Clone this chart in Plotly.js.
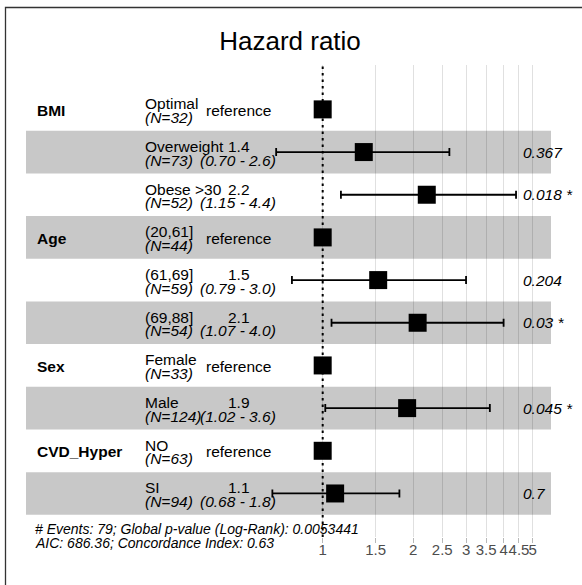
<!DOCTYPE html>
<html>
<head>
<meta charset="utf-8">
<script src="https://cdn.plot.ly/plotly-3.0.1.min.js"></script>
<style>html,body{margin:0;padding:0;background:#fff;}#chart{width:582px;height:585px;}</style>
</head>
<body>
<div id="chart"></div>
<script>
// ---- data ----
const variables = ['BMI', '', '', 'Age', '', '', 'Sex', '', 'CVD_Hyper', ''];
const levels = ['Optimal', 'Overweight', 'Obese >30', '(20,61]', '(61,69]', '(69,88]', 'Female', 'Male', 'NO', 'SI'];
const nCounts = [32, 73, 52, 44, 59, 54, 33, 124, 63, 94];
const hazardRatio = [1, 1.37, 2.22, 1, 1.53, 2.07, 1, 1.91, 1, 1.10];
const ciLower = [null, 0.70, 1.15, null, 0.79, 1.07, null, 1.02, null, 0.68];
const ciUpper = [null, 2.64, 4.4, null, 3.0, 4.0, null, 3.6, null, 1.8];
const hrLabels = ['reference', '1.4', '2.2', 'reference', '1.5', '2.1', 'reference', '1.9', 'reference', '1.1'];
const ciLabels = ['', '(0.70 - 2.6)', '(1.15 - 4.4)', '', '(0.79 - 3.0)', '(1.07 - 4.0)', '', '(1.02 - 3.6)', '', '(0.68 - 1.8)'];
const pLabels = ['', '0.367', '0.018 *', '', '0.204', '0.03 *', '', '0.045 *', '', '0.7'];
const tickValues = [1, 1.5, 2, 2.5, 3, 3.5, 4, 4.5, 5];
const tickLabels = ['1', '1.5', '2', '2.5', '3', '3.5', '4', '4.5', '5'];
const footerLines = ['# Events: 79; Global p-value (Log-Rank): 0.0053441', 'AIC: 686.36; Concordance Index: 0.63'];

// ---- layout helpers ----
const W = 582, H = 585;
const mL = 26, mR = 31, mT = 65, mB = 48;
const plotW = W - mL - mR, plotH = H - mT - mB;
const px2paperX = px => (px - mL) / plotW;
const py2paperY = py => (H - mB - py) / plotH;
const FONT = 'Liberation Sans, Arial, Helvetica, sans-serif';
const rows = levels.map((_, i) => i + 1);
const yRange = [11.02, -0.04];

const refIdx = [], estIdx = [];
hazardRatio.forEach((v, i) => (ciLower[i] === null ? refIdx : estIdx).push(i));

const traces = [
  { // reference line at HR = 1
    x: [1, 1], y: yRange, mode: 'lines', hoverinfo: 'skip', showlegend: false,
    line: { color: '#000', width: 2, dash: '2.5px,4px' }
  },
  { // estimates with confidence intervals
    x: estIdx.map(i => hazardRatio[i]), y: estIdx.map(i => rows[i]),
    mode: 'markers', type: 'scatter', showlegend: false,
    marker: { symbol: 'square', size: 18, color: '#000' },
    error_x: {
      type: 'data', symmetric: false,
      array: estIdx.map(i => ciUpper[i] - hazardRatio[i]),
      arrayminus: estIdx.map(i => hazardRatio[i] - ciLower[i]),
      color: '#000', thickness: 1.8, width: 4
    }
  },
  { // reference levels
    x: refIdx.map(i => hazardRatio[i]), y: refIdx.map(i => rows[i]),
    mode: 'markers', type: 'scatter', showlegend: false,
    marker: { symbol: 'square', size: 18, color: '#000' }
  }
];

const shapes = [];
rows.forEach((r, i) => {
  if (i % 2 === 1) {
    shapes.push({ type: 'rect', xref: 'paper', yref: 'y', x0: 0, x1: 1, y0: r - 0.5, y1: r + 0.5,
      fillcolor: '#c8c8c8', line: { width: 0 }, layer: 'below' });
  }
});
shapes.push({ type: 'rect', xref: 'paper', yref: 'paper',
  x0: px2paperX(5.5), x1: 1.2, y0: -0.3, y1: py2paperY(7.5),
  line: { color: '#333', width: 1.3 }, fillcolor: 'rgba(0,0,0,0)', layer: 'above' });

const annotations = [];
const base = { xref: 'paper', yref: 'y', showarrow: false, font: { family: FONT, size: 15.5, color: '#000' } };
rows.forEach((r, i) => {
  if (variables[i]) {
    annotations.push(Object.assign({}, base, { x: px2paperX(35), y: r, yshift: -1, xanchor: 'left',
      text: '<b>' + variables[i] + '</b>' }));
  }
  annotations.push(Object.assign({}, base, { x: px2paperX(143), y: r, yshift: 5.5, xanchor: 'left', text: levels[i] }));
  annotations.push(Object.assign({}, base, { x: px2paperX(143), y: r, yshift: -8, xanchor: 'left',
    text: '<i>(N=' + nCounts[i] + ')</i>' }));
  if (ciLabels[i]) {
    annotations.push(Object.assign({}, base, { x: px2paperX(239), y: r, yshift: 5.5, xanchor: 'center', text: hrLabels[i] }));
    annotations.push(Object.assign({}, base, { x: px2paperX(238), y: r, yshift: -8, xanchor: 'center',
      text: '<i>' + ciLabels[i] + '</i>' }));
  } else {
    annotations.push(Object.assign({}, base, { x: px2paperX(238), y: r, yshift: -1, xanchor: 'center', text: hrLabels[i] }));
  }
  if (pLabels[i]) {
    annotations.push(Object.assign({}, base, { x: px2paperX(521), y: r, xanchor: 'left',
      text: '<i>' + pLabels[i] + '</i>' }));
  }
});
footerLines.forEach((t, k) => {
  annotations.push({ xref: 'paper', yref: 'paper', x: px2paperX(33), y: py2paperY(k === 0 ? 529 : 543),
    xanchor: 'left', yanchor: 'middle', showarrow: false, text: '<i>' + t + '</i>',
    font: { family: FONT, size: 14, color: '#000' } });
});

const layout = {
  width: W, height: H,
  margin: { l: mL, r: mR, t: mT, b: mB, pad: 0 },
  paper_bgcolor: '#fff', plot_bgcolor: '#fff',
  showlegend: false,
  title: { text: 'Hazard ratio', x: 290 / W, xanchor: 'center', y: 1 - 41 / H, yanchor: 'middle',
    font: { family: FONT, size: 26, color: '#000' } },
  xaxis: {
    type: 'log', range: [-0.9874, 0.7598], fixedrange: true,
    tickvals: tickValues, ticktext: tickLabels, tickangle: 0, ticklabelstandoff: -6,
    showgrid: true, gridcolor: 'rgba(0,0,0,0.12)', gridwidth: 1,
    ticks: 'outside', ticklen: 5, tickcolor: '#b8b8b8', tickwidth: 1,
    tickfont: { family: FONT, size: 15, color: '#4d4d4d' },
    zeroline: false, showline: false
  },
  yaxis: {
    range: yRange, showgrid: false, zeroline: false, showline: false,
    showticklabels: false, ticks: '', fixedrange: true
  },
  shapes: shapes,
  annotations: annotations
};

Plotly.newPlot('chart', traces, layout, { displayModeBar: false, staticPlot: true });
</script>
</body>
</html>
